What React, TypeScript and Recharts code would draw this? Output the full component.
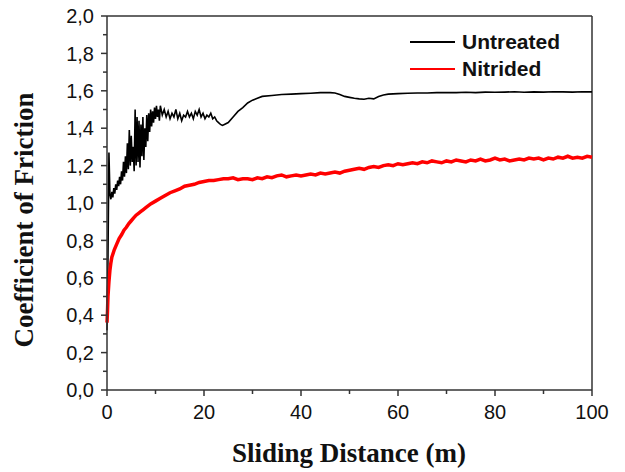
import React from "react";
import {
  Label,
  Legend,
  Line,
  LineChart,
  ReferenceLine,
  XAxis,
  YAxis,
} from "recharts";

const untreatedDistance = [
  0, 0.2, 0.4, 0.6, 0.8, 1.0, 1.2, 1.4, 1.6, 1.8, 2.0, 2.2, 2.4, 2.6, 2.8,
  3.0, 3.2, 3.4, 3.6, 3.8, 4.0, 4.2, 4.4, 4.6, 4.8, 5.0, 5.2, 5.4, 5.6, 5.8,
  6.0, 6.2, 6.4, 6.6, 6.8, 7.0, 7.2, 7.4, 7.6, 7.8, 8.0, 8.2, 8.4, 8.6, 8.8,
  9.0, 9.2, 9.4, 9.6, 9.8, 10.0, 10.2, 10.4, 10.6, 10.8, 11.0, 11.4, 11.8,
  12.2, 12.6, 13.0, 13.4, 13.8, 14.2, 14.6, 15.0, 15.4, 15.8, 16.2, 16.6,
  17.0, 17.4, 17.8, 18.2, 18.6, 19.0, 19.4, 19.8, 20.2, 20.6, 21.0, 21.4,
  21.8, 22.2, 22.6, 23.0, 23.4, 23.8, 24.2, 25, 26, 27, 28, 29, 30, 31, 32,
  34, 36, 38, 40, 42, 44, 46, 47, 48, 49, 50, 51, 52, 53, 54, 55, 56, 57, 58,
  60, 62, 64, 66, 68, 70, 72, 74, 76, 78, 80, 82, 84, 86, 88, 90, 92, 94, 96,
  98, 100,
];
const untreatedCof = [
  0.32, 0.7, 1.27, 1.05, 1.02, 1.06, 1.03, 1.08, 1.05, 1.1, 1.07, 1.12, 1.09,
  1.14, 1.1, 1.17, 1.12, 1.22, 1.14, 1.25, 1.16, 1.32, 1.18, 1.39, 1.2, 1.36,
  1.22, 1.3, 1.17, 1.5, 1.2, 1.46, 1.22, 1.44, 1.19, 1.42, 1.25, 1.46, 1.23,
  1.4, 1.3, 1.47, 1.33, 1.48, 1.38, 1.5, 1.41, 1.49, 1.43, 1.51, 1.45, 1.52,
  1.46, 1.5, 1.44, 1.52, 1.47, 1.5, 1.46, 1.49, 1.45, 1.48, 1.46, 1.5, 1.45,
  1.48, 1.44, 1.47, 1.46, 1.49, 1.46, 1.48, 1.45, 1.49, 1.47, 1.5, 1.46, 1.48,
  1.45, 1.47, 1.46, 1.48, 1.45, 1.46, 1.44, 1.43, 1.42, 1.415, 1.42, 1.43,
  1.46, 1.49, 1.51, 1.535, 1.55, 1.56, 1.57, 1.575, 1.58, 1.582, 1.585, 1.587,
  1.59, 1.59, 1.588, 1.58, 1.57, 1.565, 1.56, 1.557, 1.555, 1.56, 1.557, 1.57,
  1.578, 1.582, 1.585, 1.587, 1.588, 1.588, 1.59, 1.59, 1.59, 1.592, 1.59,
  1.593, 1.592, 1.593, 1.595, 1.592, 1.594, 1.593, 1.595, 1.594, 1.593, 1.595,
  1.594,
];

const nitridedDistance = [
  0, 0.1, 0.2, 0.4, 0.6, 0.8, 1.0, 1.5, 2, 2.5, 3, 3.5, 4, 4.5, 5, 5.5, 6,
  6.5, 7, 7.5, 8, 9, 10, 11, 12, 13, 14, 15, 16, 17, 18, 19, 20, 21, 22, 23,
  24, 25, 26, 27, 28, 29, 30, 31, 32, 33, 34, 35, 36, 37, 38, 39, 40, 41, 42,
  43, 44, 45, 46, 47, 48, 49, 50, 51, 52, 53, 54, 55, 56, 57, 58, 59, 60, 61,
  62, 63, 64, 65, 66, 67, 68, 69, 70, 71, 72, 73, 74, 75, 76, 77, 78, 79, 80,
  81, 82, 83, 84, 85, 86, 87, 88, 89, 90, 91, 92, 93, 94, 95, 96, 97, 98, 99,
  100,
];
const nitridedCof = [
  0.36, 0.42, 0.5, 0.58, 0.64, 0.68, 0.71, 0.75, 0.78, 0.81, 0.83, 0.855, 0.87,
  0.89, 0.905, 0.92, 0.935, 0.945, 0.955, 0.965, 0.975, 0.995, 1.01, 1.025,
  1.04, 1.055, 1.065, 1.075, 1.09, 1.095, 1.1, 1.11, 1.115, 1.12, 1.12, 1.125,
  1.13, 1.13, 1.135, 1.125, 1.13, 1.13, 1.125, 1.135, 1.13, 1.14, 1.135, 1.145,
  1.15, 1.14, 1.145, 1.15, 1.145, 1.15, 1.155, 1.15, 1.16, 1.155, 1.16, 1.165,
  1.16, 1.17, 1.175, 1.18, 1.185, 1.18, 1.19, 1.195, 1.19, 1.2, 1.205, 1.2,
  1.21, 1.205, 1.21, 1.215, 1.21, 1.22, 1.215, 1.225, 1.22, 1.215, 1.225, 1.22,
  1.23, 1.225, 1.22, 1.23, 1.225, 1.235, 1.225, 1.23, 1.24, 1.23, 1.235, 1.225,
  1.23, 1.235, 1.23, 1.24, 1.235, 1.24, 1.23, 1.24, 1.235, 1.245, 1.24, 1.25,
  1.24, 1.245, 1.24, 1.25, 1.245,
];

const xTicks = [0, 10, 20, 30, 40, 50, 60, 70, 80, 90, 100];
const yTicks = [
  0, 0.1, 0.2, 0.3, 0.4, 0.5, 0.6, 0.7, 0.8, 0.9, 1.0, 1.1, 1.2, 1.3, 1.4,
  1.5, 1.6, 1.7, 1.8, 1.9, 2.0,
];
const legendOrder = ["Untreated", "Nitrided"];

const untreated = untreatedDistance.map((d, i) => ({ d, cof: untreatedCof[i] }));
const nitrided = nitridedDistance.map((d, i) => ({ d, cof: nitridedCof[i] }));

const AXIS = "#333";
const SANS = "'Liberation Sans', Arial, sans-serif";
const SERIF = "'Liberation Serif', 'Times New Roman', serif";

function XTick({ x, y, payload }: any) {
  const major = payload.value % 20 === 0;
  return (
    <g>
      <line x1={x} y1={y} x2={x} y2={y + (major ? 6 : 4)} stroke={AXIS} strokeWidth={1.5} />
      {major && (
        <text x={x} y={y + 29} textAnchor="middle" fontSize={20} fontFamily={SANS} fill="#111">
          {payload.value}
        </text>
      )}
    </g>
  );
}

function YTick({ x, y, payload }: any) {
  const major = Math.round(payload.value * 10) % 2 === 0;
  return (
    <g>
      <line x1={x} y1={y} x2={x - (major ? 6 : 4)} y2={y} stroke={AXIS} strokeWidth={1.5} />
      {major && (
        <text x={x - 13} y={y} dy="0.36em" textAnchor="end" fontSize={20} fontFamily={SANS} fill="#111">
          {payload.value.toFixed(1).replace(".", ",")}
        </text>
      )}
    </g>
  );
}

function LegendBox({ payload }: any) {
  const items = [...(payload || [])].sort(
    (a: any, b: any) => legendOrder.indexOf(a.value) - legendOrder.indexOf(b.value)
  );
  return (
    <div style={{ fontFamily: SANS }}>
      {items.map((p: any) => (
        <div key={p.value} style={{ display: "flex", alignItems: "center", height: 27 }}>
          <svg width={52} height={4}>
            <line x1={0} y1={2} x2={45} y2={2} stroke={p.color} strokeWidth={2} />
          </svg>
          <span style={{ fontSize: 21, fontWeight: "bold", color: "#111" }}>{p.value}</span>
        </div>
      ))}
    </div>
  );
}

export default function App() {
  return (
    <div style={{ position: "absolute", left: 0, top: 0, background: "#fff" }}>
      <LineChart
        width={625}
        height={472}
        margin={{ top: 16, right: 33, bottom: 52, left: 47 }}
      >
        <XAxis
          dataKey="d"
          type="number"
          domain={[0, 100]}
          ticks={xTicks}
          interval={0}
          height={30}
          stroke={AXIS}
          strokeWidth={1.5}
          tickLine={false}
          tickSize={0}
          tickMargin={0}
          tick={<XTick />}
          allowDuplicatedCategory={false}
        >
          <Label
            content={() => (
              <text x={349} y={462} textAnchor="middle" fontSize={27} fontWeight="bold" fontFamily={SERIF} fill="#111">
                Sliding Distance (m)
              </text>
            )}
          />
        </XAxis>
        <YAxis
          type="number"
          domain={[0, 2]}
          ticks={yTicks}
          interval={0}
          width={60}
          stroke={AXIS}
          strokeWidth={1.5}
          tickLine={false}
          tickSize={0}
          tickMargin={0}
          tick={<YTick />}
        >
          <Label
            content={() => (
              <text
                x={33}
                y={220}
                transform="rotate(-90 33 220)"
                textAnchor="middle"
                fontSize={27}
                fontWeight="bold"
                fontFamily={SERIF}
                fill="#111"
              >
                Coefficient of Friction
              </text>
            )}
          />
        </YAxis>
        <ReferenceLine y={2} stroke={AXIS} strokeWidth={1.5} />
        <ReferenceLine x={100} stroke={AXIS} strokeWidth={1.5} />
        <Legend
          layout="vertical"
          align="center"
          verticalAlign="middle"
          content={<LegendBox />}
          wrapperStyle={{ top: 28, left: 410, width: "auto" }}
        />
        <Line
          data={untreated}
          dataKey="cof"
          name="Untreated"
          type="linear"
          stroke="#000"
          strokeWidth={1.6}
          dot={false}
          isAnimationActive={false}
        />
        <Line
          data={nitrided}
          dataKey="cof"
          name="Nitrided"
          type="linear"
          stroke="#f00"
          strokeWidth={3.5}
          dot={false}
          isAnimationActive={false}
        />
      </LineChart>
    </div>
  );
}
